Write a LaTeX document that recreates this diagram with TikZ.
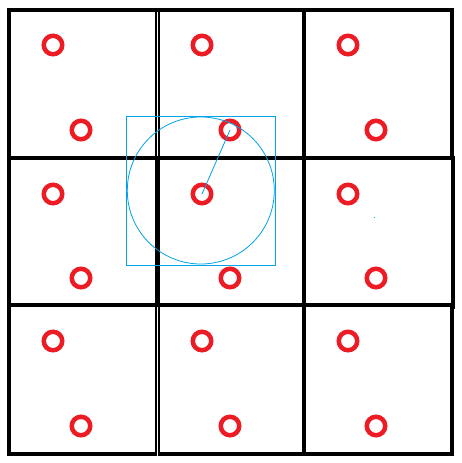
\documentclass[tikz,border=0pt]{standalone}
\begin{document}
\begin{tikzpicture}[x=1pt,y=-1pt,
  gridline/.style={line width=4pt,black},
  thinpair/.style={line width=2.4pt,black},
  hole/.style={draw=ringred,line width=4.5pt,circle,minimum size=18.5pt,inner sep=0pt},
  probe/.style={draw=skyblue,line width=0.8pt}]
\definecolor{ringred}{RGB}{237,28,36}
\definecolor{skyblue}{RGB}{0,162,232}
\useasboundingbox[fill=white] (0,0) rectangle (461,463);
% horizontal lines
\draw[gridline] (7,9.5) -- (453,9.5);
\draw[gridline] (7,158) -- (455,158);
\draw[gridline] (7,305) -- (455,305);
\draw[gridline] (7,453.5) -- (157,453.5);
\draw[gridline] (158.5,453.5) -- (453,453.5);
% vertical lines
\draw[gridline] (9,7.5) -- (9,456);
\draw[thinpair] (156.2,7.5) -- (156.2,158);
\draw[thinpair] (159.2,7.5) -- (159.2,158);
\draw[line width=5pt] (157.5,158) -- (157.5,305);
\draw[thinpair] (156.2,305) -- (156.2,456);
\draw[thinpair] (159.2,305) -- (159.2,456);
\draw[gridline] (304.3,7.5) -- (304.3,456);
\draw[gridline] (451.5,7.5) -- (451.5,158);
\draw[gridline] (452.5,156) -- (452.5,309);
\draw[gridline] (451.5,303) -- (451.5,456);
% red rings
\foreach \r/\ya/\yb in {1/45/130,2/194/278,3/341/426}{
  \foreach \c/\xa/\xb in {1/53/81,2/202/230,3/348/376}{
    \node[hole] (a\r\c) at (\xa,\ya) {};
    \node[hole] (b\r\c) at (\xb,\yb) {};
  }
}
% blue search window
\draw[probe] (126,116) rectangle (275.3,265);
\draw[probe] (200.8,190.5) circle[radius=73.5];
\draw[probe] (a22.center) -- (b12.center);
\fill[skyblue] (374.2,216.8) rectangle (375.4,217.8);
\end{tikzpicture}
\end{document}
